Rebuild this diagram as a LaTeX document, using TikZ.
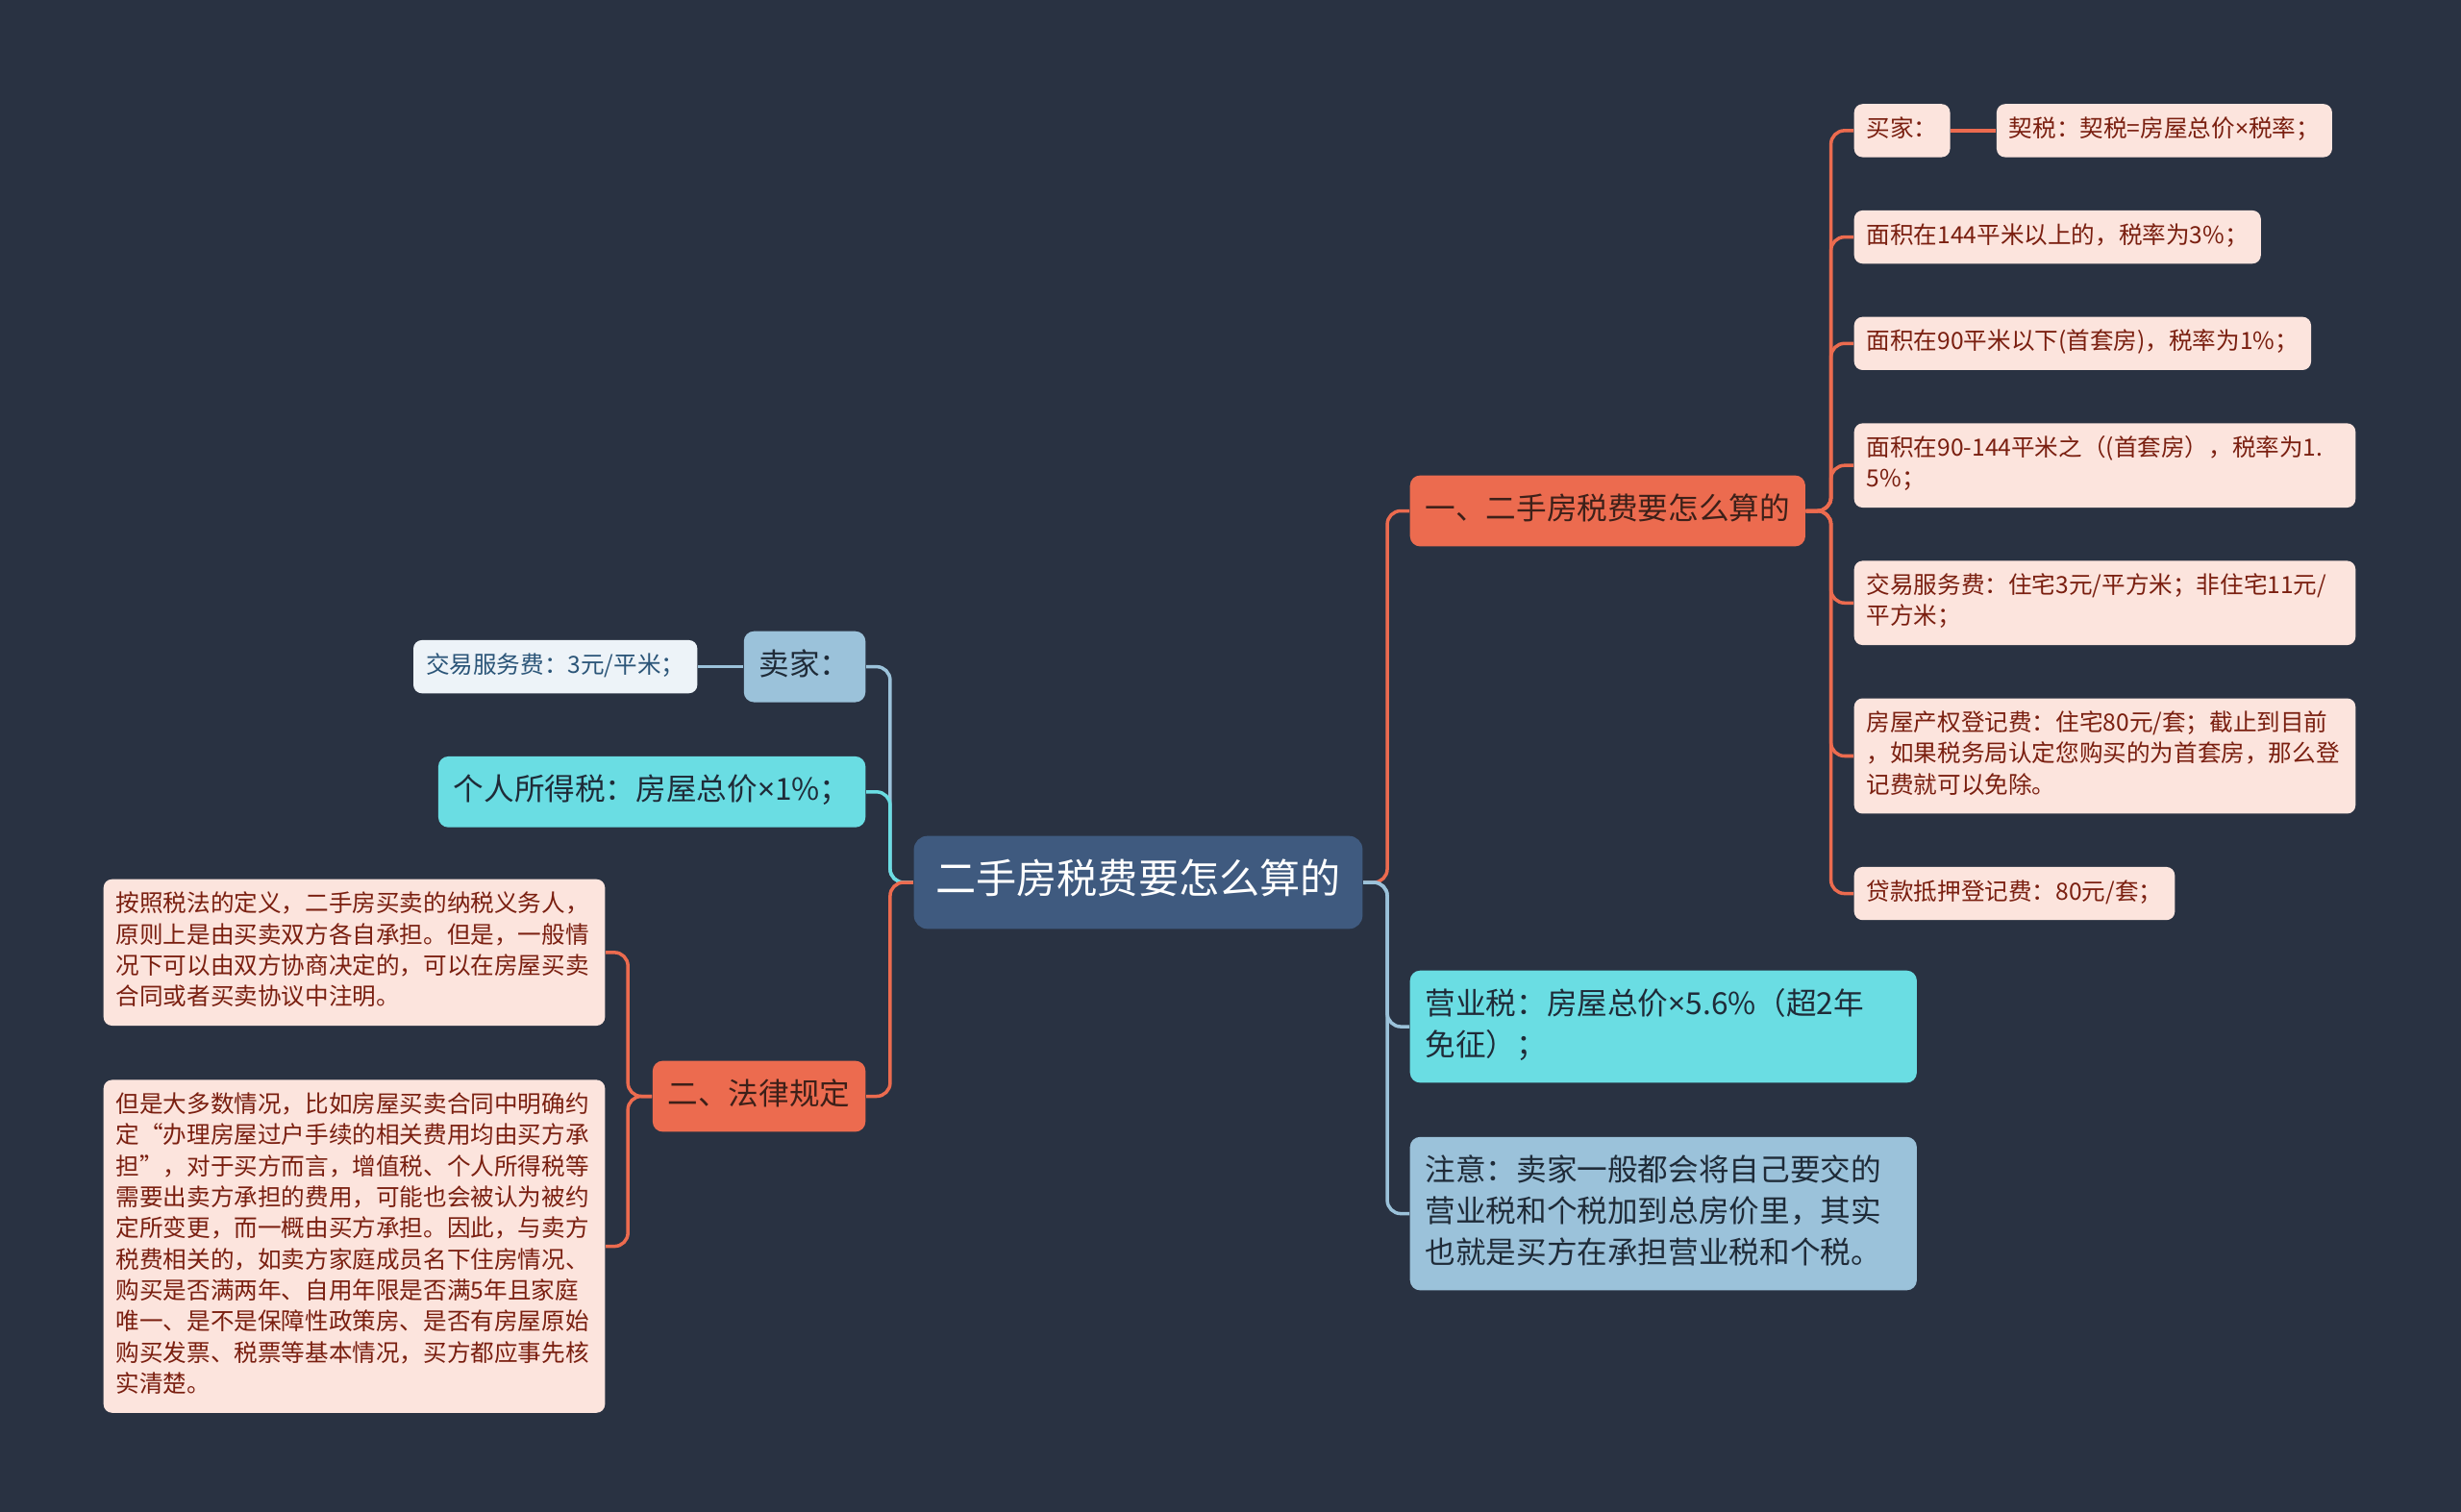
\documentclass[tikz,border=0pt]{standalone}
\usepackage{fontspec}
\setmainfont{Noto Sans CJK SC}
\newfontfamily\latinfont{Noto Sans}
\newcommand{\timessign}{{\latinfont ×}}
\usepackage{xcolor}
\usetikzlibrary{positioning}
\definecolor{bgnavy}{HTML}{293242}
\definecolor{rootblue}{HTML}{3F5A7F}
\definecolor{mmorange}{HTML}{EC6B4F}
\definecolor{mmcyan}{HTML}{6ADDE3}
\definecolor{mmblue}{HTML}{9BC2DA}
\definecolor{leafpink}{HTML}{FCE4DD}
\definecolor{leafred}{HTML}{7A1F10}
\definecolor{palefill}{HTML}{EDF3F8}
\definecolor{paletext}{HTML}{2B5578}
\definecolor{darktext}{HTML}{1F2B38}
\definecolor{branchtext}{HTML}{3D2019}

\begin{document}
\begin{tikzpicture}[
  rootbox/.style={rectangle, rounded corners=4pt, fill=rootblue, text=white, font=\fontsize{12}{16}\selectfont, inner xsep=6.4pt, inner ysep=5.75pt, execute at begin node=\strut},
  branch/.style={rectangle, rounded corners=3pt, fill=mmorange, text=branchtext, font=\fontsize{9}{12.2}\selectfont, inner xsep=4.5pt, inner ysep=4.4pt, execute at begin node=\strut},
  mid/.style={rectangle, rounded corners=3pt, text=darktext, font=\fontsize{9}{12.2}\selectfont, inner xsep=4.5pt, inner ysep=4.4pt, align=left, execute at begin node=\strut, execute at end node=\strut},
  midwide/.style={mid, text width=141pt},
  leaf/.style={rectangle, rounded corners=2.5pt, fill=leafpink, text=leafred, font=\fontsize{7}{9.2}\selectfont, inner xsep=3.7pt, inner ysep=3.27pt, align=left, execute at begin node=\strut, execute at end node=\strut},
  leafwide/.style={leaf, text width=141pt},
  pale/.style={leaf, fill=palefill, text=paletext},
  link/.style={line width=1pt, rounded corners=4pt}]

\useasboundingbox (0,0) rectangle (25.6,-15.73);
\fill[bgnavy] (0,0) rectangle (25.6,-15.73);

\node[rootbox] (root) at (11.84,-9.18) {二手房税费要怎么算的};

% right side
\node[branch, anchor=west] (calc) at (14.66,-5.315) {一、二手房税费要怎么算的};
\node[leaf, anchor=north west] (buyer) at (19.28,-1.075) {买家：};
\node[leaf, right=0.47cm of buyer] (deed) {契税：契税=房屋总价\timessign 税率；};
\node[leaf, below=0.54cm of buyer.south west, anchor=north west] (area1) {面积在144平米以上的，税率为3\%；};
\node[leaf, below=0.54cm of area1.south west, anchor=north west] (area2) {面积在90平米以下(首套房)，税率为1\%；};
\node[leafwide, below=0.54cm of area2.south west, anchor=north west] (area3) {面积在90-144平米之（(首套房），税率为1.\\5\%；};
\node[leafwide, below=0.54cm of area3.south west, anchor=north west] (svc) {交易服务费：住宅3元/平方米；非住宅11元/\\平方米；};
\node[leafwide, below=0.54cm of svc.south west, anchor=north west] (reg) {房屋产权登记费：住宅80元/套；截止到目前\\，如果税务局认定您购买的为首套房，那么登\\记费就可以免除。};
\node[leaf, below=0.54cm of reg.south west, anchor=north west] (loan) {贷款抵押登记费：80元/套；};

\node[midwide, fill=mmcyan, anchor=north west] (biz) at (14.66,-10.09) {营业税：房屋总价\timessign 5.6\%（超2年\\免征）；};
\node[midwide, fill=mmblue, below=0.55cm of biz.south west, anchor=north west] (note) {注意：卖家一般都会将自己要交的\\营业税和个税加到总房价里，其实\\也就是买方在承担营业税和个税。};

% left side
\node[mid, fill=mmblue, anchor=north east] (seller) at (9.01,-6.56) {卖家：};
\node[pale, left=0.47cm of seller] (sellfee) {交易服务费：3元/平米；};
\node[mid, fill=mmcyan, below=0.55cm of seller.south east, anchor=north east] (income) {个人所得税：房屋总价\timessign 1\%；};
\node[branch, anchor=east] (law) at (9.01,-11.405) {二、法律规定};
\node[leafwide, anchor=north east] (law1) at (6.30,-9.14) {按照税法的定义，二手房买卖的纳税义务人，\\原则上是由买卖双方各自承担。但是，一般情\\况下可以由双方协商决定的，可以在房屋买卖\\合同或者买卖协议中注明。};
\node[leafwide, below=0.55cm of law1.south east, anchor=north east] (law2) {但是大多数情况，比如房屋买卖合同中明确约\\定“办理房屋过户手续的相关费用均由买方承\\担”，对于买方而言，增值税、个人所得税等\\需要出卖方承担的费用，可能也会被认为被约\\定所变更，而一概由买方承担。因此，与卖方\\税费相关的，如卖方家庭成员名下住房情况、\\购买是否满两年、自用年限是否满5年且家庭\\唯一、是不是保障性政策房、是否有房屋原始\\购买发票、税票等基本情况，买方都应事先核\\实清楚。};

% connectors
\draw[link, mmorange] (root.east) -- ++(0.25,0) |- (calc.west);
\draw[link, mmblue] (root.east) -- ++(0.25,0) |- (biz.west);
\draw[link, mmblue] (root.east) -- ++(0.25,0) |- (note.west);
\draw[link, mmblue] (root.west) -- ++(-0.24,0) |- (seller.east);
\draw[link, mmcyan] (root.west) -- ++(-0.24,0) |- (income.east);
\draw[link, mmorange] (root.west) -- ++(-0.24,0) |- (law.east);

\draw[link, mmorange] (calc.east) -- ++(0.26,0) |- (buyer.west);
\draw[link, mmorange] (calc.east) -- ++(0.26,0) |- (area1.west);
\draw[link, mmorange] (calc.east) -- ++(0.26,0) |- (area2.west);
\draw[link, mmorange] (calc.east) -- ++(0.26,0) |- (area3.west);
\draw[link, mmorange] (calc.east) -- ++(0.26,0) |- (svc.west);
\draw[link, mmorange] (calc.east) -- ++(0.26,0) |- (reg.west);
\draw[link, mmorange] (calc.east) -- ++(0.26,0) |- (loan.west);
\draw[link, mmorange] (buyer) -- (deed);

\draw[link, mmblue] (seller) -- (sellfee);
\draw[link, mmorange] (law.west) -- ++(-0.25,0) |- (law1.east);
\draw[link, mmorange] (law.west) -- ++(-0.25,0) |- (law2.east);
\end{tikzpicture}
\end{document}
